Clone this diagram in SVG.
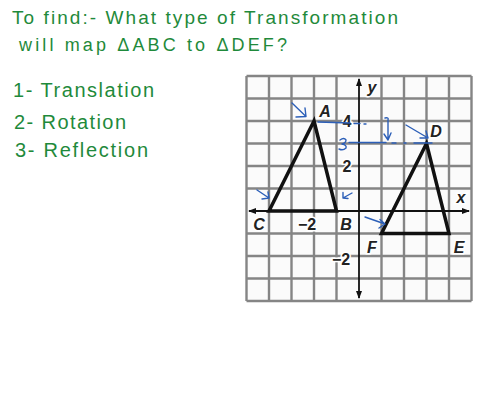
<svg xmlns="http://www.w3.org/2000/svg" width="480" height="420" viewBox="0 0 480 420">
<defs>
<style>
.hw{font-family:"Liberation Sans","DejaVu Sans",sans-serif;fill:#1f8a3b;}
.grid line{stroke:#858585;stroke-width:2.4;}
.ax{stroke:#111;stroke-width:1.8;fill:none;}
.tri{stroke:#111;stroke-width:3.5;fill:none;stroke-linejoin:miter;}
.lbl{font-family:"Liberation Sans","DejaVu Sans",sans-serif;font-weight:bold;font-style:italic;font-size:16px;fill:#222;stroke:#fff;stroke-width:3;paint-order:stroke;text-anchor:middle;}
.num{font-family:"Liberation Sans","DejaVu Sans",sans-serif;font-weight:bold;font-size:16px;fill:#222;stroke:#fff;stroke-width:3;paint-order:stroke;text-anchor:middle;}
.blue{stroke:#2c5fb8;stroke-width:1.4;fill:none;stroke-linecap:round;stroke-linejoin:round;}
</style>
</defs>
<rect width="480" height="420" fill="#fff"/>
<g id="title">
<text class="hw" x="12" y="24" font-size="19" textLength="386" lengthAdjust="spacing">To find:- What type of Transformation</text>
<text class="hw" x="19" y="51" font-size="18" textLength="268" lengthAdjust="spacing">will map ΔABC to ΔDEF?</text>
</g>
<g id="options">
<text class="hw" x="13" y="97" font-size="20" textLength="141" lengthAdjust="spacing">1- Translation</text>
<text class="hw" x="14" y="129" font-size="20" textLength="112" lengthAdjust="spacing">2- Rotation</text>
<text class="hw" x="15" y="157" font-size="20" textLength="133" lengthAdjust="spacing">3- Reflection</text>
</g>
<g id="grid" class="grid">
<rect x="246.5" y="76" width="225" height="225" fill="#fbfbfb"/>
<line x1="246.5" y1="76" x2="246.5" y2="301"/>
<line x1="269" y1="76" x2="269" y2="301"/>
<line x1="291.5" y1="76" x2="291.5" y2="301"/>
<line x1="314" y1="76" x2="314" y2="301"/>
<line x1="336.5" y1="76" x2="336.5" y2="301"/>
<line x1="381.5" y1="76" x2="381.5" y2="301"/>
<line x1="404" y1="76" x2="404" y2="301"/>
<line x1="426.5" y1="76" x2="426.5" y2="301"/>
<line x1="449" y1="76" x2="449" y2="301"/>
<line x1="471.5" y1="76" x2="471.5" y2="301"/>
<line x1="246.5" y1="76" x2="471.5" y2="76"/>
<line x1="246.5" y1="98.5" x2="471.5" y2="98.5"/>
<line x1="246.5" y1="121" x2="471.5" y2="121"/>
<line x1="246.5" y1="143.5" x2="471.5" y2="143.5"/>
<line x1="246.5" y1="166" x2="471.5" y2="166"/>
<line x1="246.5" y1="188.5" x2="471.5" y2="188.5"/>
<line x1="246.5" y1="233.5" x2="471.5" y2="233.5"/>
<line x1="246.5" y1="256" x2="471.5" y2="256"/>
<line x1="246.5" y1="278.5" x2="471.5" y2="278.5"/>
<line x1="246.5" y1="301" x2="471.5" y2="301"/>
</g>
<g id="axes">
<line class="ax" x1="249" y1="211" x2="469" y2="211"/>
<line class="ax" x1="359" y1="79" x2="359" y2="298"/>
<path d="M248 211 l8 -3 v6 z M470 211 l-8 -3 v6 z M359 78 l-3 8 h6 z M359 299 l-3 -8 h6 z" fill="#111"/>
<text class="lbl" x="372" y="93">y</text>
<text class="lbl" x="461" y="203">x</text>
<text class="num" x="347" y="127">4</text>
<text class="num" x="347" y="172">2</text>
<text class="num" x="307" y="230">−2</text>
<text class="num" x="341" y="265">−2</text>
</g>
<g id="triangle-ABC">
<polygon class="tri" points="314,121 336.5,211 269,211"/>
<text class="lbl" x="325" y="117">A</text>
<text class="lbl" x="346" y="230">B</text>
<text class="lbl" x="259" y="230">C</text>
</g>
<g id="triangle-DEF">
<polygon class="tri" points="426.5,143.5 449,233.5 381.5,233.5"/>
<text class="lbl" x="436" y="137">D</text>
<text class="lbl" x="459" y="253">E</text>
<text class="lbl" x="372" y="253">F</text>
</g>
<g id="connectors">
<path class="blue" d="M292 103 L306 116.5 M296 117 L306 116.5 L305 108"/>
<path class="blue" d="M318 122 L350 123 M354 123.5 L360 123.5 M364 124 L366 124"/>
<path class="blue" d="M340 140 Q344 137 346 140 Q346 143 342 144 Q347 145 346 148 Q343 151 339 149"/>
<path class="blue" d="M349 142.5 L386 142.5 M392 143 L396 143 M404 143 L406 143 M414 143 L432 143"/>
<path class="blue" d="M385 118 Q389 117 388 120 L388 140 M384 134 L388 140 L391 133"/>
<path class="blue" d="M406 125 L428 138 M420 138 L428 138 L426 131"/>
<path class="blue" d="M257 190 L269 198 M262 199 L269 198 L268 192"/>
<path class="blue" d="M352 193 L343 198 M343 192.5 L343 198 L348 198.5"/>
<path class="blue" d="M365 217 L385 224 M379 228 L385 224 L380 219.5"/>
</g>
</svg>
